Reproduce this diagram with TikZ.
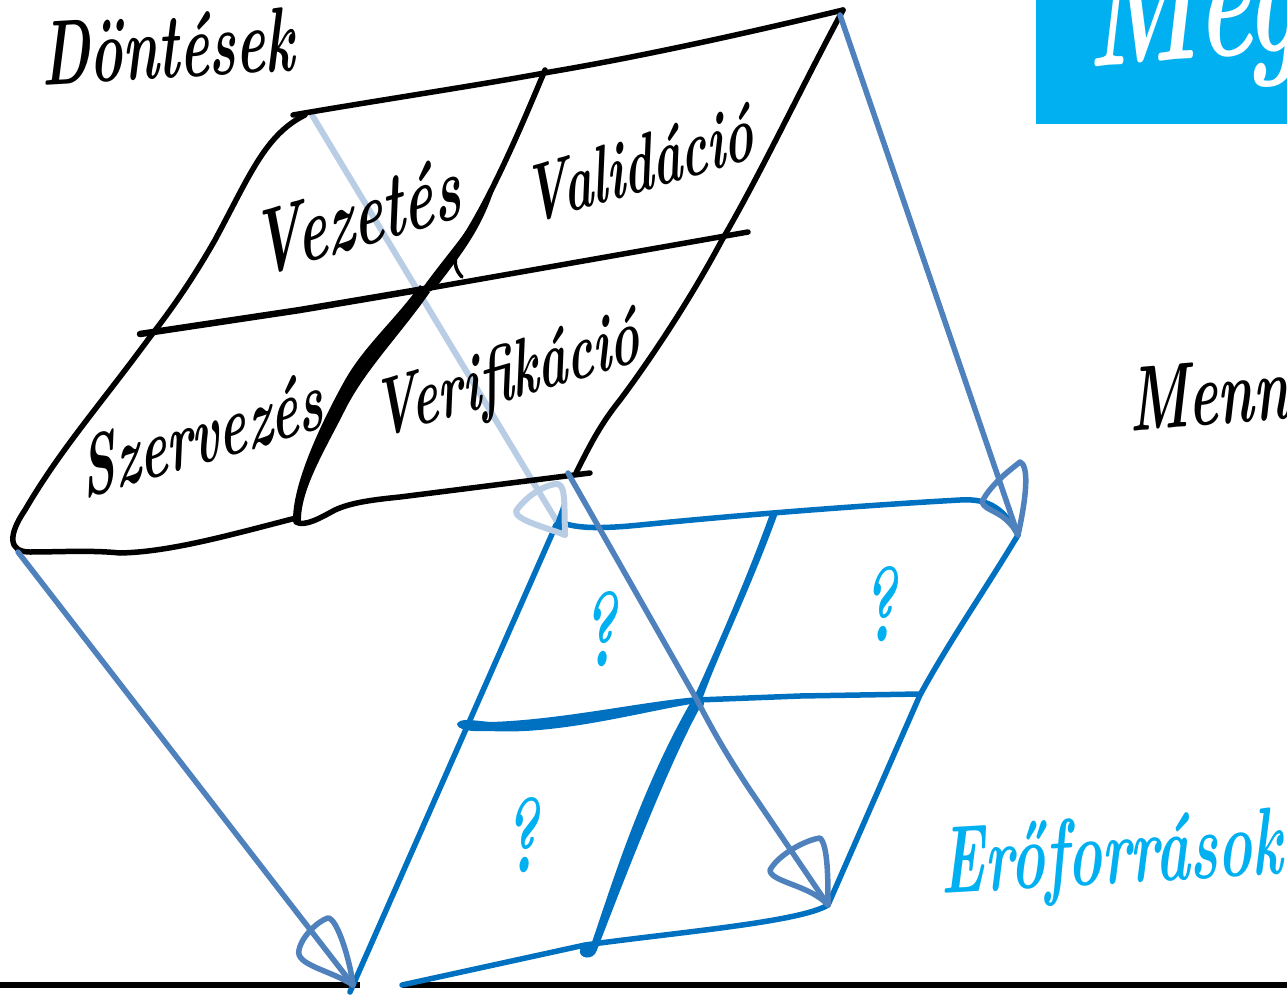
\documentclass[tikz,border=0pt]{standalone}
\definecolor{skyblue}{HTML}{00B0F0}
\definecolor{deepblue}{HTML}{0070C0}
\definecolor{steelblue}{HTML}{4F81BD}
\definecolor{paleblue}{HTML}{B9CDE5}
\tikzset{
  hand/.style={font=\fontsize{#1}{#1}\selectfont\bfseries\itshape, inner sep=0pt, xscale=.6},
  ink/.style={line width=5.5pt, line cap=round, line join=round},
  steelink/.style={ink, steelblue},
  paleink/.style={ink, paleblue, line width=6pt},
  deepink/.style={ink, deepblue}
}
\begin{document}
\begin{tikzpicture}[x=1pt, y=-1pt]
  \useasboundingbox (0,0) rectangle (1287,995);
  \clip (0,0) rectangle (1287,995);
  % Sarkok
  \coordinate (topback) at (312,115);
  \coordinate (topright) at (840,15);
  \coordinate (topleft) at (18,552);
  \coordinate (topfront) at (568,473);
  \coordinate (tipback) at (565,535);
  \coordinate (tipright) at (1018,535);
  \coordinate (tipleft) at (353,985);
  \coordinate (tipfront) at (828,905);
  \coordinate (center) at (697,700);
  % Alsó vonal
  \fill (0,982) rectangle (360,988);
  \fill (402,982) rectangle (1287,988);
  % Doboz
  \fill[skyblue] (1036,0) rectangle (1287,124);
  \node[hand=172, white, anchor=base west, rotate=3] (megnode) at (1088,68) {Meg};
  % Halvány él
  \draw[paleink] (topback) -- (tipback);
  % Kék lap
  \draw[deepink] (556,525) -- (350,992);
  \fill[deepblue] (564,498) -- (566,532) -- (552,532) -- cycle;
  \draw[deepink] (566,524) .. controls (580,528) and (600,529) .. (640,525)
    .. controls (750,514) and (870,505) .. (960,500)
    .. controls (990,498) and (1005,510) .. (tipright);
  \draw[deepink] (tipright) .. controls (985,590) and (950,640) .. (920,695) -- (tipfront);
  \draw[deepink] (402,985) -- (585,945) .. controls (680,932) and (800,922) .. (tipfront);
  \fill[deepblue] (457,724) .. controls (460,718) and (470,720) .. (490,722)
    .. controls (560,720) and (640,702) .. (697,697) -- (697,703)
    .. controls (640,712) and (560,735) .. (490,731) .. controls (470,732) and (458,730) .. (457,724) -- cycle;
  \draw[deepink] (center) -- (800,696) -- (920,694);
  \fill[deepblue] (771,511) -- (778,513) .. controls (750,590) and (720,650) .. (703,697) -- (694,697)
    .. controls (720,640) and (750,570) .. (771,511) -- cycle;
  \fill[deepblue] (692,700) -- (702,704) .. controls (670,760) and (620,890) .. (597,950)
    .. controls (593,962) and (578,958) .. (580,950) .. controls (584,942) and (590,945) .. (592,942)
    .. controls (610,890) and (640,790) .. (692,700) -- cycle;
  \fill[deepblue] (697,703) circle (7pt);
  % Fekete lap
  \draw[ink] (293,115) .. controls (380,100) and (480,85) .. (550,72)
    .. controls (650,55) and (760,30) .. (843,10);
  \draw[ink] (843,10) .. controls (800,90) and (760,175) .. (722,240)
    .. controls (690,300) and (650,360) .. (620,400) .. controls (600,425) and (590,445) .. (576,473);
  \draw[ink] (590,473) -- (400,497) .. controls (370,500) and (350,503) .. (335,510)
    .. controls (320,518) and (305,527) .. (296,522);
  \draw[ink] (305,115) .. controls (265,135) and (250,175) .. (215,240)
    .. controls (195,275) and (175,305) .. (150,337)
    .. controls (100,405) and (60,450) .. (25,510)
    .. controls (8,535) and (8,552) .. (30,552)
    .. controls (60,552) and (90,550) .. (120,553)
    .. controls (170,552) and (230,535) .. (296,518);
  \draw[ink, line width=6.5pt] (140,334) -- (300,310) -- (430,288);
  \draw[ink] (430,288) -- (748,232);
  \draw[ink] (545,70) .. controls (520,130) and (490,200) .. (460,245) -- (430,285);
  \fill (497,180) .. controls (484,225) and (465,250) .. (434,290) -- (424,286)
    .. controls (450,250) and (475,225) .. (497,180) -- cycle;
  \draw[ink, line width=3.5pt] (460,245) .. controls (452,260) and (455,270) .. (462,277);
  \fill (420,285) -- (430,292) .. controls (400,335) and (365,370) .. (345,410)
    .. controls (325,450) and (300,490) .. (301,522) -- (293,522)
    .. controls (292,485) and (320,425) .. (345,380) .. controls (365,345) and (395,320) .. (420,285) -- cycle;
  % Élek
  \draw[steelink] (topright) -- (tipright);
  \draw[steelink] (topleft) -- (tipleft);
  \draw[steelink] (topfront) -- (center) .. controls (715,735) and (730,760) .. (750,790) -- (tipfront);
  % Nyilak
  \draw[steelink] (tipright) .. controls (1005,510) and (985,512) .. (982,502)
    .. controls (990,485) and (1010,470) .. (1020,462) .. controls (1028,465) and (1028,490) .. cycle;
  \draw[steelink] (tipleft) .. controls (330,970) and (295,965) .. (299,950)
    .. controls (302,935) and (320,920) .. (328,918) .. controls (337,918) and (350,960) .. cycle;
  \draw[steelink] (tipfront) .. controls (810,885) and (770,882) .. (770,870)
    .. controls (778,855) and (805,840) .. (820,838) .. controls (828,845) and (828,880) .. cycle;
  \draw[paleink] (tipback) .. controls (545,527) and (515,520) .. (516,511)
    .. controls (525,498) and (540,487) .. (555,484) .. controls (566,482) and (564,500) .. cycle;
  % Feliratok
  \node[hand=92, rotate=2] (donteseknode) at (168,46) {Döntések};
  \node[hand=93, rotate=10] (vezetesnode) at (357,216) {Vezetés};
  \node[hand=82, rotate=10] (validacionode) at (639,164) {Validáció};
  \node[hand=86, rotate=10] (szervezesnode) at (202,434) {Szervezés};
  \node[hand=82, rotate=10] (verifikacionode) at (507,380) {Verifikáció};
  \node[hand=92, anchor=base west, rotate=3] (mennynode) at (1130,432) {Menny};
  \node[hand=96, skyblue, rotate=2] (eroforrasoknode) at (1112,860) {Erőforrások};
  \node[hand=104, skyblue, rotate=5] (qa) at (600,630) {?};
  \node[hand=104, skyblue, rotate=5] (qb) at (880,605) {?};
  \node[hand=104, skyblue, rotate=5] (qc) at (522,836) {?};
\end{tikzpicture}
\end{document}
